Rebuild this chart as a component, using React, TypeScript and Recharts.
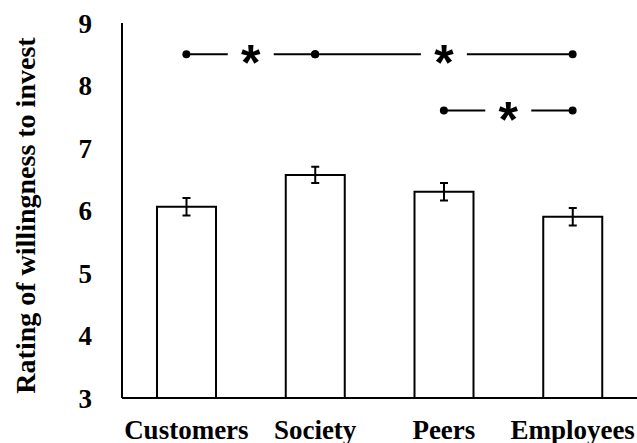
import { BarChart, Bar, XAxis, YAxis, ErrorBar, ReferenceLine, Label } from "recharts";

const categories = ["Customers", "Society", "Peers", "Employees"];
const means = [6.06, 6.57, 6.3, 5.9];
const errors = [0.14, 0.13, 0.14, 0.14];
const yTicks = [3, 4, 5, 6, 7, 8, 9];

// pairs marked significant (*), drawn at the given rating height
const sigFrom = ["Customers", "Society", "Peers"];
const sigTo = ["Society", "Employees", "Employees"];
const sigLevel = [8.5, 8.5, 7.6];

const data = categories.map((name, i) => ({ name, mean: means[i], err: errors[i] }));

const serif = "'Liberation Serif', 'Times New Roman', serif";

function SigBracket(props: any) {
  const { x1, y1, x2 } = props;
  const mid = (x1 + x2) / 2;
  const gap = 23;
  return (
    <g>
      <line x1={x1} y1={y1} x2={mid - gap} y2={y1} stroke="#000" strokeWidth={2} />
      <line x1={mid + gap} y1={y1} x2={x2} y2={y1} stroke="#000" strokeWidth={2} />
      <circle cx={x1} cy={y1} r={4} fill="#000" />
      <circle cx={x2} cy={y1} r={4} fill="#000" />
      <text
        x={mid}
        y={y1 + 26}
        textAnchor="middle"
        fontFamily="'Liberation Sans', Arial, sans-serif"
        fontWeight="bold"
        fontSize={50}
        fill="#000"
      >
        *
      </text>
    </g>
  );
}

function YTitle(props: any) {
  const { viewBox } = props;
  const cx = viewBox.x + 35;
  const cy = viewBox.y + viewBox.height / 2 + 5;
  return (
    <text
      x={cx}
      y={cy}
      transform={`rotate(-90, ${cx}, ${cy})`}
      textAnchor="middle"
      fontFamily={serif}
      fontWeight="bold"
      fontSize={28}
      fill="#000"
    >
      Rating of willingness to invest
    </text>
  );
}

export default function App() {
  return (
    <div style={{ position: "absolute", left: 0, top: 0, background: "#fff" }}>
      <BarChart
        width={637}
        height={443}
        data={data}
        margin={{ top: 23, right: 0, bottom: 0, left: 0 }}
        barSize={59}
      >
        <XAxis
          dataKey="name"
          height={45}
          axisLine={{ stroke: "#000", strokeWidth: 2 }}
          tickLine={false}
          tickSize={0}
          tickMargin={22}
          interval={0}
          tick={{ fill: "#000", fontSize: 27, fontWeight: "bold", fontFamily: serif }}
        />
        <YAxis
          width={122}
          domain={[3, 9]}
          ticks={yTicks}
          allowDataOverflow
          axisLine={{ stroke: "#000", strokeWidth: 2 }}
          tickLine={false}
          tickSize={0}
          tickMargin={30}
          tick={{ fill: "#000", fontSize: 27, fontWeight: "bold", fontFamily: serif }}
        >
          <Label content={<YTitle />} />
        </YAxis>
        <Bar dataKey="mean" fill="#fff" stroke="#000" strokeWidth={2} isAnimationActive={false}>
          <ErrorBar dataKey="err" width={4} stroke="#000" strokeWidth={2} isAnimationActive={false} />
        </Bar>
        {sigFrom.map((from, i) => (
          <ReferenceLine
            key={i}
            segment={[
              { x: from, y: sigLevel[i] },
              { x: sigTo[i], y: sigLevel[i] },
            ]}
            ifOverflow="visible"
            shape={<SigBracket />}
          />
        ))}
      </BarChart>
    </div>
  );
}
